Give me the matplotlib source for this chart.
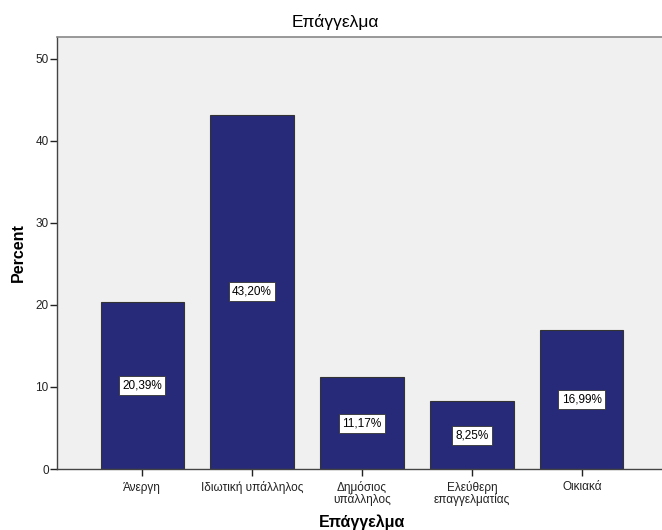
import matplotlib
matplotlib.use("Agg")
import matplotlib.pyplot as plt

categories = ["Άνεργη", "Ιδιωτική υπάλληλος", "Δημόσιος\nυπάλληλος", "Ελεύθερη\nεπαγγελματίας", "Οικιακά"]
percents = [20.39, 43.20, 11.17, 8.25, 16.99]
labels = ["20,39%", "43,20%", "11,17%", "8,25%", "16,99%"]
yticks = [0, 10, 20, 30, 40, 50]

plt.rcParams['font.family'] = ['Liberation Sans', 'DejaVu Sans']

fig = plt.figure(figsize=(6.62, 5.30), dpi=100)
ax = fig.add_axes([57/662, 61/530, 610/662, 432/530])
ax.set_facecolor('#f0f0f0')

x = list(range(len(categories)))
ax.bar(x, percents, width=0.755, color='#272a78', edgecolor='#333333', linewidth=0.8, zorder=2)
for xi, v, lab in zip(x, percents, labels):
    ax.text(xi, v / 2, lab, ha='center', va='center', fontsize=8.5, color='black', zorder=3,
            bbox=dict(boxstyle='square,pad=0.3', facecolor='white', edgecolor='#333333', linewidth=0.6))

ax.set_xlim(-0.773, 4.773)
ax.set_ylim(0, 52.68)
ax.set_yticks(yticks)
ax.set_yticklabels([str(t) for t in yticks], fontsize=8.5, color='#222222')
ax.set_xticks(x)
ax.set_xticklabels(categories, fontsize=8.5, color='#222222', linespacing=0.88)
ax.tick_params(axis='both', direction='out', length=5, width=1, color='#222222')
ax.tick_params(axis='x', pad=4)
ax.tick_params(axis='y', pad=1)

for s in ['left', 'bottom']:
    ax.spines[s].set_color('#444444')
    ax.spines[s].set_linewidth(1.0)
ax.spines['top'].set_color('#888888')
ax.spines['top'].set_linewidth(1.2)
ax.spines['right'].set_visible(False)

ax.set_ylabel('Percent', fontsize=11.5, fontweight='bold', labelpad=7)
ax.set_xlabel('Επάγγελμα', fontsize=11.5, fontweight='bold', labelpad=6)
fig.text(335/662, 1 - 22/530, 'Επάγγελμα', ha='center', va='center', fontsize=12.5)

fig.savefig('out.png', dpi=100)
